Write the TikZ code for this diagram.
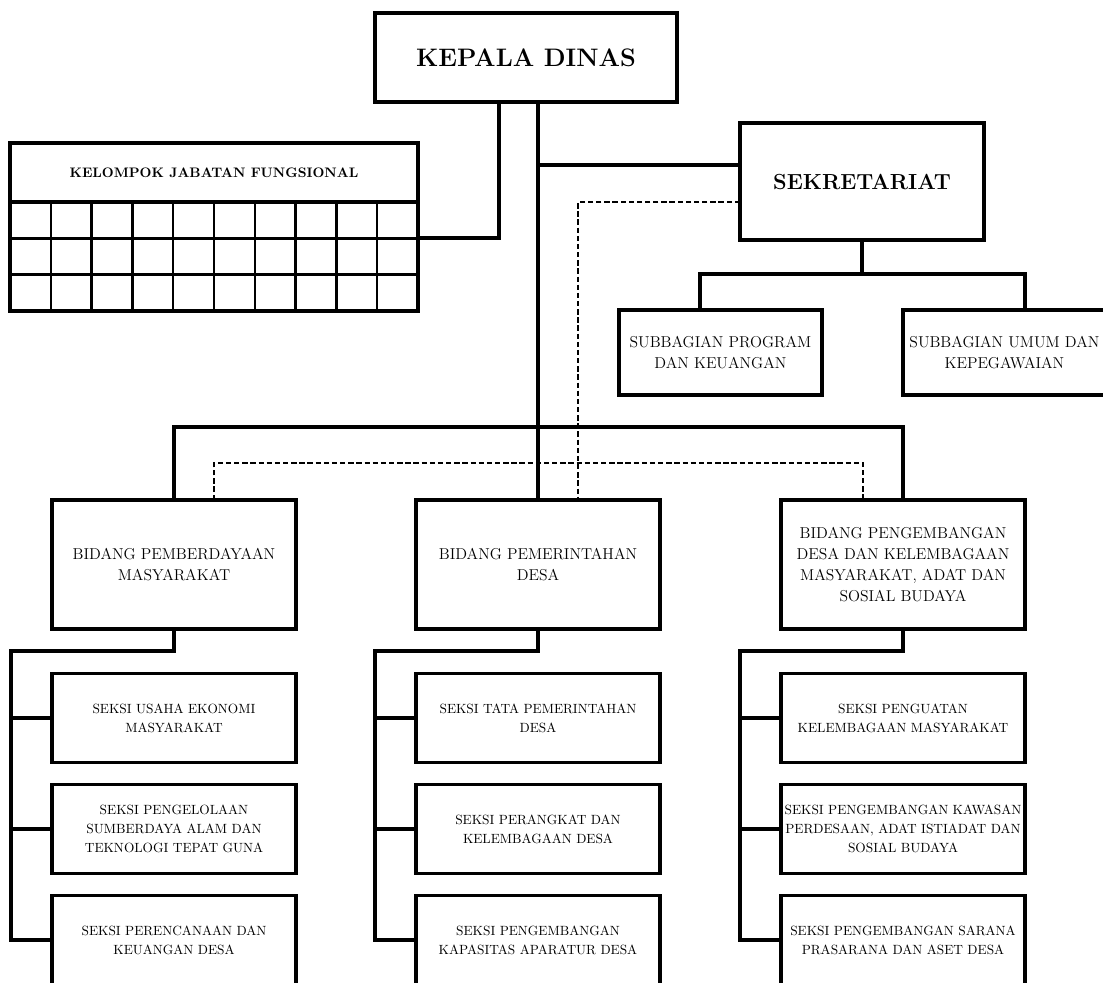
\documentclass[tikz,border=0pt]{standalone}
\usepackage{tikz}
\usetikzlibrary{calc}
\newcommand{\headfont}{\fontsize{15.5}{19}\selectfont\bfseries}
\newcommand{\bidfont}{\fontsize{11.2}{15}\selectfont}
\newcommand{\seksifont}{\fontsize{9.5}{13.5}\selectfont}

\begin{document}
\begin{tikzpicture}[
  every node/.style={outer sep=0pt},
  box/.style={draw, line width=2.8pt, align=center, inner sep=1pt},
  head/.style={box, font=\headfont},
  sub/.style={box, minimum width=5.075cm, minimum height=2.125cm, font=\bidfont},
  bidang/.style={box, minimum width=6.1cm, minimum height=3.225cm, font=\bidfont},
  seksi/.style={box, minimum width=6.1cm, minimum height=2.225cm, font=\seksifont},
  cell/.style={draw, line width=1.8pt, minimum width=1.02cm, minimum height=0.908cm, inner sep=0pt},
  link/.style={line width=2.6pt},
  dashline/.style={line width=1.4pt, dash pattern=on 3.8pt off 2pt}
]
\useasboundingbox (0,0) rectangle (27.575,24.55);
\clip (0,0) rectangle (27.575,24.55);

%% Kepala dinas and sekretariat
\node[head, minimum width=7.55cm, minimum height=2.225cm, font=\fontsize{18}{21}\selectfont\bfseries]
     (kepala) at (13.15,23.11) {KEPALA DINAS};
\node[head, minimum width=6.1cm, minimum height=2.925cm] (sek) at (21.55,20.01) {SEKRETARIAT};

%% Kelompok jabatan fungsional
\node[box, minimum width=10.2cm, minimum height=1.475cm, font=\fontsize{9.8}{12}\selectfont\bfseries]
     (kjf) at (5.35,20.2375) {KELOMPOK JABATAN FUNGSIONAL};
\foreach \r in {1,2,3}
  \foreach \c in {1,...,10}
    \node[cell] (cell-\r-\c) at ({1.02*\c-0.26},{19.954-0.908*\r}) {};
\draw[line width=2.8pt] (kjf.north west) rectangle (cell-3-10.south east);

%% Subbagian
\node[sub] (sub1) at (18.01,15.74) {SUBBAGIAN PROGRAM\\DAN KEUANGAN};
\node[sub] (sub2) at (25.11,15.74) {SUBBAGIAN UMUM DAN\\KEPEGAWAIAN};

%% Bidang
\node[bidang] (bid1) at (4.35,10.44) {BIDANG PEMBERDAYAAN\\MASYARAKAT};
\node[bidang] (bid2) at (13.45,10.44) {BIDANG PEMERINTAHAN\\DESA};
\node[bidang] (bid3) at (22.575,10.44) {BIDANG PENGEMBANGAN\\DESA DAN KELEMBAGAAN\\MASYARAKAT, ADAT DAN\\SOSIAL BUDAYA};

%% Seksi
\node[seksi] (s11) at (4.35,6.6) {SEKSI USAHA EKONOMI\\MASYARAKAT};
\node[seksi] (s12) at (4.35,3.825) {SEKSI PENGELOLAAN\\SUMBERDAYA ALAM DAN\\TEKNOLOGI TEPAT GUNA};
\node[seksi] (s13) at (4.35,1.05) {SEKSI PERENCANAAN DAN\\KEUANGAN DESA};
\node[seksi] (s21) at (13.45,6.6) {SEKSI TATA PEMERINTAHAN\\DESA};
\node[seksi] (s22) at (13.45,3.825) {SEKSI PERANGKAT DAN\\KELEMBAGAAN DESA};
\node[seksi] (s23) at (13.45,1.05) {SEKSI PENGEMBANGAN\\KAPASITAS APARATUR DESA};
\node[seksi] (s31) at (22.575,6.6) {SEKSI PENGUATAN\\KELEMBAGAAN MASYARAKAT};
\node[seksi] (s32) at (22.575,3.825) {SEKSI PENGEMBANGAN KAWASAN\\PERDESAAN, ADAT ISTIADAT DAN\\SOSIAL BUDAYA};
\node[seksi] (s33) at (22.575,1.05) {SEKSI PENGEMBANGAN SARANA\\PRASARANA DAN ASET DESA};

%% Lines of command
\draw[link] (cell-1-10.south east) -| ($(kepala.south west)+(3.1,0)$);
\draw[link] ($(kepala.south west)+(4.075,0)$) -- (bid2.north);
\coordinate (sekjoin) at ($(sek.north west)+(0,-1.05)$);
\draw[link] (sekjoin) -- (sekjoin -| bid2.north);
\draw[link] (bid1.north) -- ++(0,1.825) -| (bid3.north);
\draw[link] (sek.south) -- ++(0,-0.85) coordinate (subjoin);
\draw[link] ($(sub1.north west)+(2.025,0)$) |- (subjoin) -| ($(sub2.north west)+(3.05,0)$);
\foreach \i in {1,2,3}{
  \draw[link] (bid\i.south) -- ++(0,-0.55) -| ($(s\i3.west)+(-1.025,0)$) -- (s\i3.west);
  \foreach \j in {1,2}
    \draw[link] (s\i\j.west) -- ++(-1.025,0);
}

%% Lines of coordination
\coordinate (sekdash) at ($(sek.north west)+(0,-1.975)$);
\draw[dashline] (sekdash) -| ($(bid2.north)+(1,0)$);
\draw[dashline] ($(bid1.north)+(1,0)$) -- ++(0,0.925) -| ($(bid3.north)+(-1,0)$);

\end{tikzpicture}
\end{document}
